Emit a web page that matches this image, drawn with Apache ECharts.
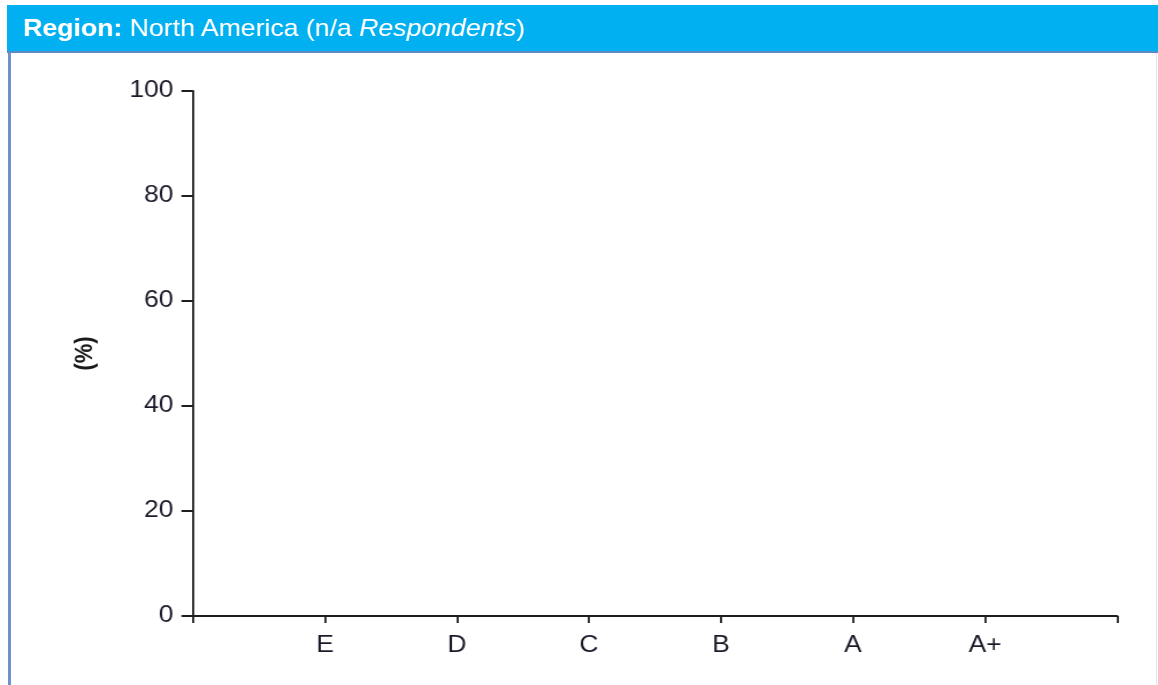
<!DOCTYPE html>
<html><head><meta charset="utf-8">
<script src="https://cdn.jsdelivr.net/npm/echarts@6/dist/echarts.min.js"></script>
<style>
html,body{margin:0;padding:0;background:#fff;width:1158px;height:685px;overflow:hidden;font-family:"Liberation Sans",Arial,sans-serif;}
#hdr{position:absolute;left:7px;top:5px;width:1151px;height:46px;background:#00B0F0;color:#fff;font-size:24px;line-height:46px;box-sizing:border-box;padding-left:16px;white-space:nowrap;}
#hdr span{display:inline-block;transform:scaleX(1.11);transform-origin:0 50%;}
#hline{position:absolute;left:7px;top:51px;width:1151px;height:2px;background:#5B8BC6;}
#lborder{position:absolute;left:8px;top:53px;width:3px;height:632px;background:#6F92CA;}
#rborder{position:absolute;left:1156px;top:53px;width:1px;height:632px;background:#E4E6EE;}
#chart{position:absolute;left:0;top:0;width:1007px;height:685px;transform:scaleX(1.15);transform-origin:0 0;}
</style></head>
<body>
<div id="chart"></div>
<div id="hdr"><span><b>Region:</b> North America (n/a <i>Respondents</i>)</span></div>
<div id="hline"></div><div id="lborder"></div><div id="rborder"></div>
<script>
const categories = ['', 'E', 'D', 'C', 'B', 'A', 'A+', ''];
const values = [null, null, null, null, null, null, null, null];
const yTicks = { min: 0, max: 100, interval: 20 };
const yAxisName = '(%)';

const chart = echarts.init(document.getElementById('chart'), null, { renderer: 'canvas' });
const axisColor = '#1e1e1e';
chart.setOption({
  animation: false,
  grid: { left: 167.8, right: 35.7, top: 91, bottom: 69, containLabel: false },
  xAxis: {
    type: 'category', data: categories, boundaryGap: false,
    axisLine: { show: true, lineStyle: { color: axisColor, width: 2 } },
    axisTick: { show: true, length: 7, lineStyle: { color: axisColor, width: 1.8 } },
    axisLabel: { show: true, interval: 0, margin: 18, color: '#1a1a2a', fontSize: 23, fontFamily: 'Liberation Sans' },
    splitLine: { show: false }
  },
  yAxis: {
    type: 'value', min: yTicks.min, max: yTicks.max, interval: yTicks.interval,
    name: yAxisName, nameLocation: 'middle', nameRotate: 90, nameGap: 83,
    nameTextStyle: { color: '#1a1a1a', fontSize: 22, fontWeight: 'bold', fontFamily: 'Liberation Sans' },
    axisLine: { show: true, lineStyle: { color: axisColor, width: 1.8 } },
    axisTick: { show: true, length: 10, lineStyle: { color: axisColor, width: 2 } },
    axisLabel: { margin: 17, color: '#1a1a2a', fontSize: 23, fontFamily: 'Liberation Sans' },
    splitLine: { show: false }
  },
  series: [{ type: 'bar', data: values, itemStyle: { color: '#00B0F0' } }]
});
</script>
</body></html>
